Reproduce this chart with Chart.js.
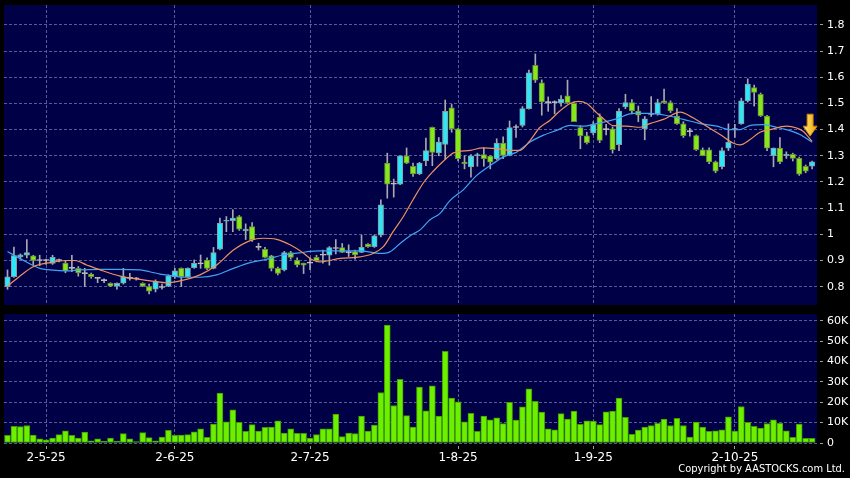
<!DOCTYPE html>
<html>
<head>
<meta charset="utf-8">
<script src="https://cdn.jsdelivr.net/npm/chart.js@4"></script>
<style>
  html, body { margin: 0; padding: 0; background: #000; }
  #wrap { position: relative; width: 850px; height: 478px; overflow: hidden; }
  #priceChart { position: absolute; left: 0; top: 0; }
  #volChart { position: absolute; left: 0; top: 310px; }
  #copy { position: absolute; right: 5px; top: 463px; color: #fff; font: 11px "DejaVu Sans Condensed", "DejaVu Sans", sans-serif; line-height: 12px; white-space: nowrap; }
</style>
</head>
<body>
<div id="wrap">
  <canvas id="priceChart" width="850" height="310"></canvas>
  <canvas id="volChart" width="850" height="168"></canvas>
  <div id="copy">Copyright by AASTOCKS.com Ltd.</div>
</div>
<script>
// daily candles, one entry per trading day (index 0 = first bar on the left)
const open = [0.800,0.838,0.914,0.920,0.918,0.900,0.900,0.889,0.900,0.890,
  0.870,0.870,0.850,0.848,0.832,0.823,0.813,0.802,0.813,0.832,
  0.830,0.813,0.800,0.790,0.797,0.802,0.838,0.870,0.838,0.873,
  0.887,0.902,0.870,0.943,1.050,1.052,1.068,1.013,1.030,0.950,
  0.943,0.918,0.870,0.864,0.930,0.902,0.890,0.890,0.912,0.920,
  0.920,0.946,0.949,0.930,0.934,0.931,0.963,0.953,0.997,1.272,
  1.192,1.192,1.300,1.260,1.231,1.280,1.409,1.311,1.343,1.483,
  1.403,1.276,1.257,1.300,1.305,1.299,1.289,1.349,1.301,1.408,
  1.416,1.480,1.646,1.579,1.503,1.503,1.502,1.529,1.500,1.408,
  1.376,1.387,1.448,1.400,1.403,1.342,1.487,1.503,1.471,1.403,
  1.458,1.460,1.510,1.503,1.452,1.422,1.392,1.377,1.323,1.323,
  1.277,1.258,1.329,1.400,1.423,1.510,1.561,1.535,1.452,1.300,
  1.329,1.300,1.306,1.290,1.260,1.260];
const high = [0.864,0.951,0.925,0.980,0.920,0.920,0.905,0.920,0.905,0.900,
  0.920,0.877,0.870,0.852,0.834,0.830,0.815,0.815,0.870,0.851,
  0.835,0.815,0.810,0.826,0.810,0.845,0.870,0.872,0.872,0.902,
  0.921,0.910,0.950,1.062,1.068,1.094,1.072,1.040,1.045,0.966,
  0.950,0.920,0.875,0.935,0.935,0.910,0.890,0.910,0.920,0.940,
  0.953,0.980,0.965,0.960,0.940,0.997,0.965,0.997,1.132,1.310,
  1.211,1.300,1.330,1.272,1.275,1.368,1.410,1.370,1.513,1.496,
  1.405,1.300,1.305,1.310,1.330,1.300,1.365,1.372,1.433,1.418,
  1.488,1.627,1.689,1.590,1.525,1.510,1.530,1.589,1.505,1.415,
  1.390,1.430,1.460,1.420,1.410,1.480,1.535,1.515,1.490,1.450,
  1.526,1.516,1.555,1.510,1.480,1.430,1.405,1.380,1.330,1.330,
  1.280,1.330,1.422,1.420,1.520,1.594,1.570,1.540,1.455,1.330,
  1.370,1.315,1.310,1.295,1.265,1.280];
const low = [0.790,0.835,0.905,0.910,0.883,0.880,0.885,0.885,0.895,0.853,
  0.857,0.840,0.800,0.832,0.815,0.815,0.800,0.790,0.810,0.825,
  0.825,0.800,0.772,0.780,0.790,0.800,0.832,0.800,0.835,0.870,
  0.870,0.865,0.868,0.940,1.010,1.010,1.015,0.980,0.973,0.940,
  0.910,0.860,0.845,0.860,0.905,0.875,0.850,0.865,0.895,0.890,
  0.882,0.925,0.930,0.915,0.905,0.930,0.950,0.950,0.990,1.138,
  1.142,1.190,1.270,1.221,1.228,1.262,1.262,1.300,1.285,1.390,
  1.280,1.250,1.218,1.260,1.260,1.250,1.285,1.289,1.300,1.370,
  1.410,1.478,1.580,1.455,1.470,1.460,1.490,1.500,1.430,1.327,
  1.345,1.380,1.350,1.380,1.310,1.320,1.480,1.460,1.430,1.361,
  1.450,1.455,1.500,1.465,1.420,1.370,1.375,1.320,1.300,1.270,
  1.235,1.250,1.320,1.370,1.420,1.505,1.490,1.450,1.320,1.258,
  1.270,1.290,1.280,1.225,1.235,1.250];
const close = [0.838,0.919,0.922,0.930,0.900,0.900,0.900,0.912,0.900,0.860,
  0.870,0.853,0.850,0.838,0.832,0.823,0.802,0.813,0.838,0.832,
  0.830,0.802,0.783,0.819,0.797,0.841,0.861,0.838,0.870,0.889,
  0.887,0.870,0.930,1.043,1.052,1.062,1.020,1.020,0.980,0.950,
  0.912,0.870,0.851,0.930,0.912,0.883,0.882,0.890,0.899,0.920,
  0.949,0.946,0.931,0.930,0.921,0.950,0.953,0.994,1.113,1.192,
  1.192,1.300,1.272,1.231,1.272,1.320,1.313,1.352,1.470,1.403,
  1.289,1.270,1.300,1.305,1.289,1.276,1.349,1.301,1.408,1.408,
  1.480,1.617,1.589,1.506,1.503,1.503,1.516,1.503,1.430,1.376,
  1.350,1.419,1.359,1.400,1.323,1.471,1.503,1.471,1.455,1.441,
  1.458,1.503,1.503,1.471,1.422,1.377,1.392,1.323,1.300,1.277,
  1.241,1.320,1.351,1.400,1.510,1.574,1.542,1.452,1.329,1.329,
  1.277,1.306,1.290,1.230,1.241,1.277];
const volume = [3800,8200,8000,8600,3900,2000,1500,2400,4100,6000,
  3800,2400,5400,1100,2100,1000,2400,1000,4600,2000,
  700,5100,2600,1100,2900,6200,3800,3900,4100,5500,
  7000,2800,9300,24500,10400,16300,10100,5700,9000,5900,
  7700,7800,10900,4900,6900,4700,4700,2400,4100,6900,
  6900,14200,3100,4900,4600,13200,5900,8800,24800,57900,
  18400,31300,13400,7800,27400,15800,28100,13200,45000,22000,
  20200,10400,14500,5700,13200,11400,12400,9500,19900,11300,
  17800,26600,20400,15200,7000,6500,14400,11700,15700,9100,
  10900,10800,9000,15300,15700,22000,12600,4200,6400,7800,
  8500,9600,11700,8600,12100,8600,2900,10300,7800,5700,
  6000,6500,12900,5900,17900,10100,8200,7300,9500,11400,
  9600,6000,2800,9300,2300,2300];

// moving averages (bar index, price)
const maFastIdx = [0,1.9,4,6.6,9.2,10.5,12.3,14.4,17.5,20.6,
  22.9,24.7,27.3,29.9,32.5,35.1,37.7,39.7,41.8,43.9,
  46,47,48.5,51.7,54.8,56.8,58.4,59.9,61.5,63,
  64.6,66.1,67.7,69.3,71.9,73.9,76,78.1,79.6,81.2,
  82.7,84.3,85.8,87.4,88.7,90,91.5,92.8,94.1,96.2,
  98.3,99.8,101.9,104.5,106.5,108.6,110.7,112.8,113.8,115.3,
  116.9,118.5,121,122.6,123.6,125];
const maFastVal = [0.802,0.840,0.876,0.892,0.900,0.900,0.883,0.864,0.840,0.828,
  0.820,0.815,0.825,0.845,0.883,0.940,0.976,0.985,0.981,0.960,
  0.928,0.908,0.895,0.908,0.914,0.927,0.953,1.010,1.068,1.132,
  1.196,1.240,1.279,1.311,1.321,1.330,1.327,1.321,1.321,1.359,
  1.408,1.436,1.471,1.500,1.508,1.500,1.465,1.437,1.415,1.413,
  1.409,1.423,1.439,1.467,1.445,1.413,1.381,1.348,1.342,1.361,
  1.390,1.400,1.413,1.406,1.394,1.355];
const maSlowIdx = [0,1.9,5,6.6,9.2,11.3,14.4,17,20.6,22.1,
  23.7,24.7,27.3,29.9,32.5,35.1,37.7,40.3,42.8,45.4,
  47,48.5,51.7,54.8,57.9,59.4,61,62.5,64.1,65.6,
  67.2,68.7,70.8,72.9,75,77,79.1,81.2,83.2,85.3,
  87.4,89.5,91.5,93.6,94.6,97.2,99.8,102.4,105,107.6,
  110.2,112.2,113.8,115.3,117.4,119.5,121,123.1,125];
const maSlowVal = [0.934,0.908,0.870,0.864,0.860,0.864,0.866,0.866,0.864,0.857,
  0.848,0.845,0.836,0.836,0.845,0.870,0.892,0.905,0.921,0.929,
  0.935,0.937,0.937,0.937,0.927,0.933,0.965,0.994,1.017,1.055,
  1.080,1.128,1.170,1.225,1.263,1.295,1.314,1.353,1.378,1.397,
  1.416,1.413,1.423,1.434,1.441,1.462,1.462,1.454,1.439,1.423,
  1.413,1.400,1.400,1.415,1.419,1.409,1.400,1.381,1.352];

// date ticks on the bottom axis (bar index -> label)
const tickIdx = [6, 26, 47, 70, 91, 113];
const tickLabels = ['2-5-25', '2-6-25', '2-7-25', '1-8-25', '1-9-25', '2-10-25'];
const priceTicks = [0.8, 0.9, 1.0, 1.1, 1.2, 1.3, 1.4, 1.5, 1.6, 1.7, 1.8];
const volTicks = [0, 10000, 20000, 30000, 40000, 50000, 60000];

const UP = '#2ee6f6', DOWN = '#84e81a', FLAT = '#c8c8c8';
const gridColor = '#5a5a96';
const xMin = -0.544, xMax = 125.76;

const bars = open.map((_, i) => i);

// navy plot background
const panelBg = {
  id: 'panelBg',
  beforeDraw(chart) {
    const { ctx, chartArea: a } = chart;
    ctx.save();
    ctx.fillStyle = '#000046';
    ctx.fillRect(a.left, a.top, a.right - a.left, a.bottom - a.top);
    ctx.restore();
  }
};

// yellow arrow above the end of the slow average
const arrowMark = {
  id: 'arrowMark',
  afterDatasetsDraw(chart) {
    const { ctx, scales } = chart;
    const n = maSlowIdx.length - 1;
    const cx = scales.x.getPixelForValue(maSlowIdx[n]) - 2;
    const tip = scales.y.getPixelForValue(maSlowVal[n]) - 6;
    ctx.save();
    const g = ctx.createLinearGradient(cx - 7, 0, cx + 7, 0);
    g.addColorStop(0, '#ffe680');
    g.addColorStop(1, '#f0a800');
    ctx.fillStyle = g;
    ctx.strokeStyle = '#c88400';
    ctx.lineWidth = 1;
    ctx.beginPath();
    ctx.moveTo(cx, tip);
    ctx.lineTo(cx - 7, tip - 10);
    ctx.lineTo(cx - 3, tip - 10);
    ctx.lineTo(cx - 3, tip - 22);
    ctx.lineTo(cx + 3, tip - 22);
    ctx.lineTo(cx + 3, tip - 10);
    ctx.lineTo(cx + 7, tip - 10);
    ctx.closePath();
    ctx.fill();
    ctx.stroke();
    ctx.restore();
  }
};

function candleColor(ctx) {
  const i = ctx.dataIndex;
  if (close[i] > open[i]) return UP;
  if (close[i] < open[i]) return DOWN;
  return FLAT;
}

function candleBorder(ctx) {
  const i = ctx.dataIndex;
  if (close[i] > open[i]) return '#8a9aa0';
  if (close[i] < open[i]) return '#6a8a3a';
  return FLAT;
}

const tickMarkDash = [0, 3, 3, 99];

// keep the plot edges where they are: no extra room for half labels
function fixRightAxis(ax) {
  ax.width = 33;
  ax.paddingTop = 0;
  ax.paddingBottom = 0;
}

new Chart(document.getElementById('priceChart'), {
  type: 'bar',
  data: {
    datasets: [
      {
        type: 'line',
        data: maFastIdx.map((x, i) => ({ x: x, y: maFastVal[i] })),
        borderColor: '#ee9060',
        borderWidth: 1.2,
        pointRadius: 0,
        cubicInterpolationMode: 'monotone'
      },
      {
        type: 'line',
        data: maSlowIdx.map((x, i) => ({ x: x, y: maSlowVal[i] })),
        borderColor: '#3fa4f2',
        borderWidth: 1.2,
        pointRadius: 0,
        cubicInterpolationMode: 'monotone'
      },
      {
        // candle bodies
        data: bars.map(i => ({ x: i, y: [open[i], close[i]] })),
        backgroundColor: candleColor,
        borderColor: candleBorder,
        borderWidth: 1,
        borderSkipped: false,
        barThickness: 5.5,
        minBarLength: 1,
        grouped: false
      },
      {
        // wicks
        data: bars.map(i => ({ x: i, y: [low[i], high[i]] })),
        backgroundColor: '#a8a8b0',
        barThickness: 1,
        grouped: false
      }
    ]
  },
  options: {
    responsive: false,
    animation: false,
    layout: { padding: { left: 4, top: 5, right: 0, bottom: 0 } },
    plugins: { legend: { display: false }, tooltip: { enabled: false } },
    scales: {
      x: {
        type: 'linear',
        min: xMin,
        max: xMax,
        offset: false,
        afterBuildTicks: ax => { ax.ticks = tickIdx.map(v => ({ value: v })); },
        afterFit: ax => { ax.height = 5; ax.paddingLeft = 0; ax.paddingRight = 0; },
        ticks: { display: false },
        grid: { color: gridColor, drawTicks: false, offset: false },
        border: { display: false, dash: [3, 2] }
      },
      y: {
        position: 'right',
        min: 0.730,
        max: 1.876,
        afterBuildTicks: ax => { ax.ticks = priceTicks.map(v => ({ value: v })); },
        afterFit: fixRightAxis,
        ticks: {
          color: '#fff',
          padding: 4,
          font: { family: 'DejaVu Sans', size: 11 },
          callback: v => String(+v.toFixed(1))
        },
        grid: { color: gridColor, tickColor: '#a0a0a0', tickLength: 6, tickBorderDash: tickMarkDash },
        border: { display: false, dash: [3, 2] }
      }
    }
  },
  plugins: [panelBg, arrowMark]
});

new Chart(document.getElementById('volChart'), {
  type: 'bar',
  data: {
    datasets: [{
      data: bars.map(i => ({ x: i, y: volume[i] })),
      backgroundColor: '#6cf000',
      borderColor: '#3f9a00',
      borderWidth: 1,
      borderSkipped: false,
      barThickness: 6
    }]
  },
  options: {
    responsive: false,
    animation: false,
    layout: { padding: { left: 4, top: 4, right: 0, bottom: 0 } },
    plugins: { legend: { display: false }, tooltip: { enabled: false } },
    scales: {
      x: {
        type: 'linear',
        min: xMin,
        max: xMax,
        offset: false,
        afterBuildTicks: ax => { ax.ticks = tickIdx.map(v => ({ value: v })); },
        afterFit: ax => { ax.height = 35; ax.paddingLeft = 0; ax.paddingRight = 0; },
        ticks: {
          color: '#fff',
          padding: 2,
          maxRotation: 0,
          autoSkip: false,
          font: { family: 'DejaVu Sans', size: 12 },
          callback: (v, i) => tickLabels[i]
        },
        grid: { color: gridColor, offset: false, tickColor: '#a0a0a0', tickLength: 6, tickBorderDash: tickMarkDash },
        border: { display: false, dash: [3, 2] }
      },
      y: {
        position: 'right',
        min: 0,
        max: 63300,
        afterBuildTicks: ax => { ax.ticks = volTicks.map(v => ({ value: v })); },
        afterFit: fixRightAxis,
        ticks: {
          color: '#fff',
          padding: 4,
          font: { family: 'DejaVu Sans', size: 11 },
          callback: v => v === 0 ? '0' : (v / 1000) + 'K'
        },
        grid: { color: gridColor, tickColor: '#a0a0a0', tickLength: 6, tickBorderDash: tickMarkDash },
        border: { display: false, dash: [3, 2] }
      }
    }
  },
  plugins: [panelBg]
});
</script>
</body>
</html>
